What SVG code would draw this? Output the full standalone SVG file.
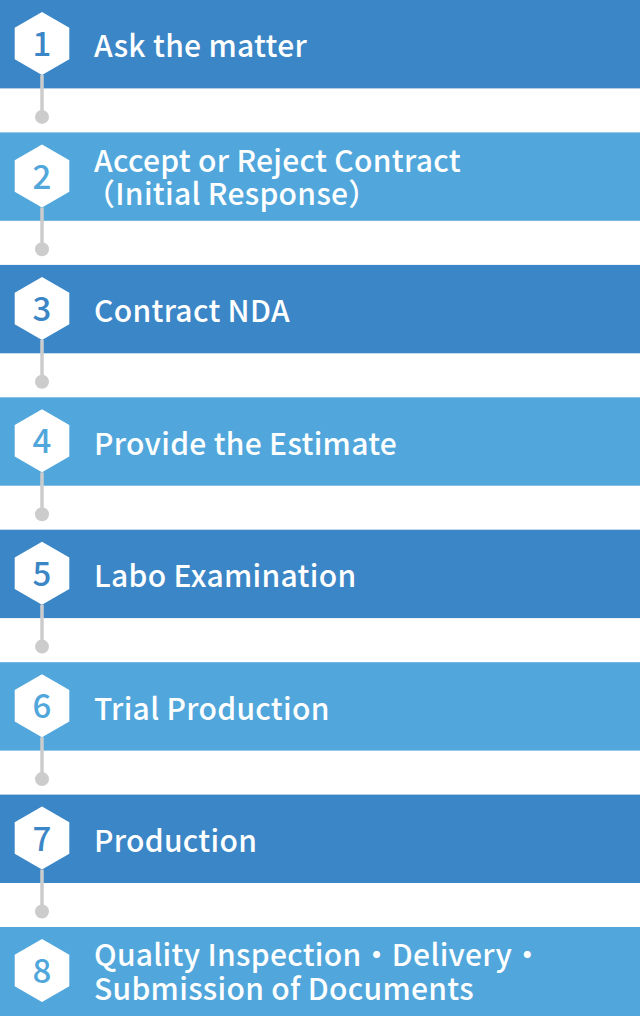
<svg xmlns="http://www.w3.org/2000/svg" width="640" height="1016" viewBox="0 0 640 1016">
<style>
.dark{fill:#3b86c6}
.light{fill:#51a7dc}
.hex{fill:#ffffff}
.num{font-family:"Noto Sans CJK JP","Noto Sans",sans-serif;font-weight:500;font-size:33px;text-anchor:middle}
.nd{fill:#3b86c6}
.nl{fill:#51a7dc}
.lbl{font-family:"Noto Sans CJK JP","Noto Sans",sans-serif;font-weight:500;font-size:30px;letter-spacing:0.3px;fill:#ffffff}
.conn line{stroke:#cccccc;stroke-width:3.5}
.conn circle{fill:#cccccc}
</style>
<defs>
<path id="hx" d="M0,-31.5 L27.3,-15.75 L27.3,15.75 L0,31.5 L-27.3,15.75 L-27.3,-15.75 Z"/>
</defs>
<g id="step1"><rect class="dark" x="0" y="0" width="640" height="88.4"/><use href="#hx" class="hex" x="42" y="43.5"/><text class="num nd" x="42" y="56">1</text><text class="lbl" x="94" y="57">Ask the matter</text></g>
<g id="step2"><rect class="light" x="0" y="132.4" width="640" height="88.4"/><use href="#hx" class="hex" x="42" y="176"/><text class="num nl" x="42" y="188.5">2</text><text class="lbl" x="94" y="171.5">Accept or Reject Contract</text><text class="lbl" x="85" y="205">（Initial Response）</text></g>
<g id="step3"><rect class="dark" x="0" y="264.9" width="640" height="88.4"/><use href="#hx" class="hex" x="42" y="308.4"/><text class="num nd" x="42" y="320.9">3</text><text class="lbl" x="94" y="322.4">Contract NDA</text></g>
<g id="step4"><rect class="light" x="0" y="397.3" width="640" height="88.4"/><use href="#hx" class="hex" x="42" y="440.8"/><text class="num nl" x="42" y="453.3">4</text><text class="lbl" x="94" y="454.8">Provide the Estimate</text></g>
<g id="step5"><rect class="dark" x="0" y="529.7" width="640" height="88.4"/><use href="#hx" class="hex" x="42" y="573.2"/><text class="num nd" x="42" y="585.7">5</text><text class="lbl" x="94" y="587.2">Labo Examination</text></g>
<g id="step6"><rect class="light" x="0" y="662.2" width="640" height="88.4"/><use href="#hx" class="hex" x="42" y="705.7"/><text class="num nl" x="42" y="718.2">6</text><text class="lbl" x="94" y="719.7">Trial Production</text></g>
<g id="step7"><rect class="dark" x="0" y="794.6" width="640" height="88.4"/><use href="#hx" class="hex" x="42" y="838.1"/><text class="num nd" x="42" y="850.6">7</text><text class="lbl" x="94" y="852.1">Production</text></g>
<g id="step8"><rect class="light" x="0" y="927" width="640" height="89"/><use href="#hx" class="hex" x="42" y="970.5"/><text class="num nl" x="42" y="983">8</text><text class="lbl" x="94" y="966">Quality Inspection・Delivery・</text><text class="lbl" x="94" y="999.5">Submission of Documents</text></g>
<g id="connectors" class="conn">
<line x1="42" y1="75" x2="42" y2="116.9"/><circle cx="42" cy="116.9" r="7"/>
<line x1="42" y1="207.5" x2="42" y2="249.3"/><circle cx="42" cy="249.3" r="7"/>
<line x1="42" y1="339.9" x2="42" y2="381.8"/><circle cx="42" cy="381.8" r="7"/>
<line x1="42" y1="472.3" x2="42" y2="514.2"/><circle cx="42" cy="514.2" r="7"/>
<line x1="42" y1="604.7" x2="42" y2="646.6"/><circle cx="42" cy="646.6" r="7"/>
<line x1="42" y1="737.2" x2="42" y2="779.1"/><circle cx="42" cy="779.1" r="7"/>
<line x1="42" y1="869.6" x2="42" y2="911.5"/><circle cx="42" cy="911.5" r="7"/>
</g>
</svg>
